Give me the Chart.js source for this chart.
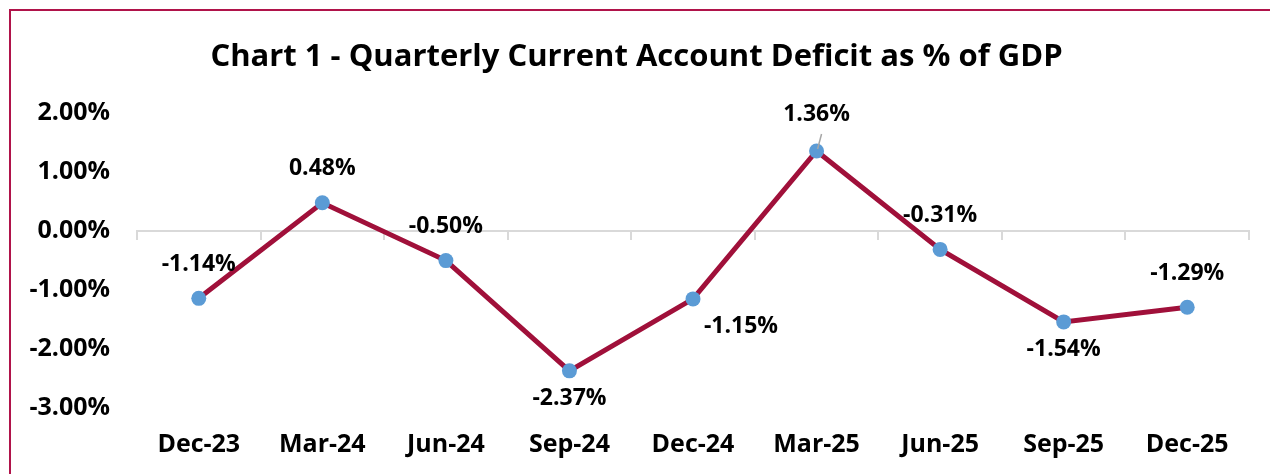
<!DOCTYPE html>
<html>
<head>
<meta charset="utf-8">
<script src="https://cdn.jsdelivr.net/npm/chart.js@4.4.1/dist/chart.umd.min.js"></script>
<style>
html,body{margin:0;padding:0;background:#fff;overflow:hidden;}
#wrap{position:relative;width:1270px;height:474px;}
#frame{position:absolute;left:9px;top:9px;width:1300px;height:500px;border-left:2px solid #B0134A;border-top:2px solid #B0134A;pointer-events:none;}
canvas{position:absolute;left:0;top:0;}
</style>
</head>
<body>
<div id="wrap">
<canvas id="c" width="1270" height="474"></canvas>
<div id="frame"></div>
</div>
<script>
const categories = ["Dec-23","Mar-24","Jun-24","Sep-24","Dec-24","Mar-25","Jun-25","Sep-25","Dec-25"];
const deficitPct = [-1.14, 0.48, -0.50, -2.37, -1.15, 1.36, -0.31, -1.54, -1.29];
const labelPlacement = ["above","above","above","below","belowRight","aboveLeader","above","below","above"];
const yTicks = [-3, -2, -1, 0, 1, 2];

const FONT = "'Open Sans', Lato, sans-serif";

const labelPlugin = {
  id: 'pointLabels',
  afterDatasetsDraw(chart) {
    const ctx = chart.ctx;
    const meta = chart.getDatasetMeta(0);
    ctx.save();
    ctx.font = "bold 23px " + FONT;
    ctx.fillStyle = "#000";
    ctx.textAlign = "center";
    ctx.textBaseline = "middle";
    meta.data.forEach((pt, i) => {
      const v = deficitPct[i];
      const txt = v.toFixed(2) + "%";
      const p = labelPlacement[i];
      let x = pt.x, y = pt.y;
      if (p === "above") { y -= 34; }
      else if (p === "below") { y += 28; }
      else if (p === "belowRight") { x += 48; y += 28; }
      else if (p === "aboveLeader") {
        y -= 36;
        ctx.save();
        ctx.strokeStyle = "#A6A6A6";
        ctx.lineWidth = 1.5;
        ctx.beginPath();
        ctx.moveTo(pt.x + 1, pt.y - 2);
        ctx.lineTo(pt.x + 5, pt.y - 17);
        ctx.stroke();
        ctx.restore();
      }
      ctx.fillText(txt, x, y);
    });
    ctx.restore();
  }
};

new Chart(document.getElementById('c'), {
  type: 'line',
  data: {
    labels: categories,
    datasets: [{
      data: deficitPct,
      borderColor: '#A0103A',
      borderWidth: 5,
      pointBackgroundColor: '#5B9BD5',
      pointBorderColor: '#5B9BD5',
      pointRadius: 7.5,
      pointBorderWidth: 0,
      tension: 0,
      xAxisID: 'x',
      yAxisID: 'y'
    }]
  },
  options: {
    responsive: false,
    animation: false,
    devicePixelRatio: 1,
    layout: { padding: { left: 24, right: 21, top: 12, bottom: 12 } },
    plugins: {
      legend: { display: false },
      tooltip: { enabled: false },
      title: {
        display: true,
        text: 'Chart 1 - Quarterly Current Account Deficit as % of GDP',
        color: '#000',
        font: { family: FONT, size: 31, weight: 'bold' },
        padding: { top: 27, bottom: 37 }
      }
    },
    scales: {
      x: {
        type: 'category',
        position: { y: 0 },
        offset: true,
        grid: { display: true, offset: true, drawOnChartArea: false, drawTicks: true, tickLength: 8, color: '#D9D9D9', lineWidth: 2 },
        border: { display: true, color: '#D9D9D9', width: 2 },
        ticks: { display: false }
      },
      x2: {
        type: 'category',
        labels: categories,
        position: 'bottom',
        offset: true,
        grid: { display: false, drawTicks: false },
        border: { display: false },
        ticks: { color: '#000', font: { family: FONT, size: 25, weight: 'bold' }, padding: 22, maxRotation: 0 },
        afterFit(axis) { axis.height = 54; }
      },
      y: {
        min: -3, max: 2,
        afterBuildTicks(axis) { axis.ticks = yTicks.map(v => ({ value: v })); },
        grid: { display: false, drawTicks: false },
        border: { display: false },
        ticks: {
          color: '#000',
          font: { family: FONT, size: 25, weight: 'bold' },
          padding: 27,
          callback: v => v.toFixed(2) + '%'
        },
        afterFit(axis) { axis.width = 113; }
      }
    }
  },
  plugins: [labelPlugin]
});
</script>
</body>
</html>
